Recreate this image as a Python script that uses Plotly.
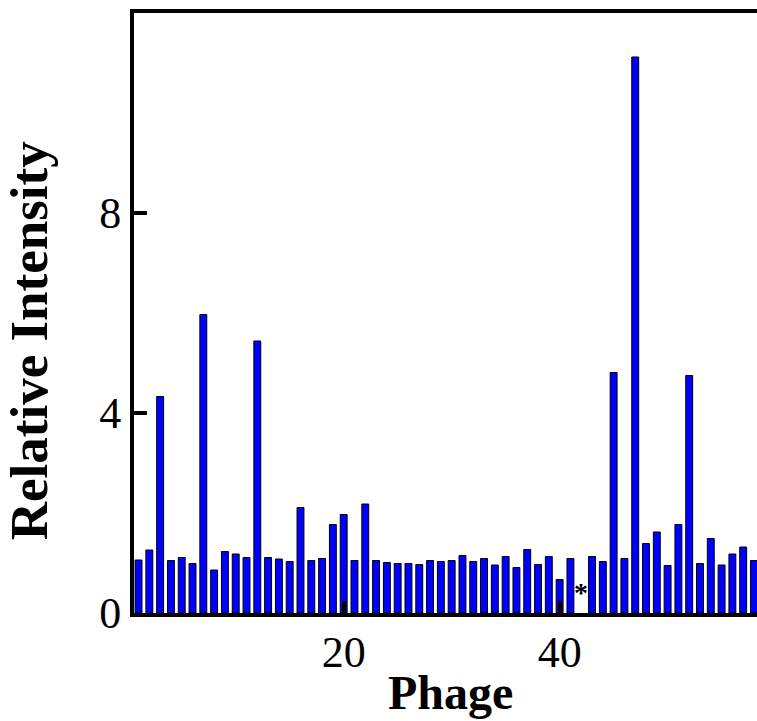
import plotly.graph_objects as go

phage = list(range(1, 59))
intensity = [1.06, 1.26, 4.33, 1.05, 1.11, 0.99, 5.97, 0.86, 1.23, 1.18,
             1.11, 5.44, 1.11, 1.08, 1.03, 2.11, 1.05, 1.09, 1.77, 1.97,
             1.05, 2.18, 1.05, 1.01, 0.99, 0.99, 0.97, 1.05, 1.03, 1.05,
             1.15, 1.03, 1.09, 0.96, 1.13, 0.91, 1.27, 0.97, 1.13, 0.67,
             1.09, None, 1.13, 1.03, 4.81, 1.09, 11.12, 1.39, 1.62, 0.95,
             1.77, 4.75, 0.99, 1.49, 0.96, 1.18, 1.32, 1.05]
x_ticks = [20, 40]
y_ticks = [0, 4, 8]
marked_phage = 42

fig = go.Figure()
fig.add_trace(go.Bar(
    x=phage, y=intensity, width=0.64,
    marker=dict(color="#0000FF", line=dict(color="black", width=1)),
))

serif = "Liberation Serif, Times New Roman, serif"
fig.update_layout(
    width=757, height=721,
    margin=dict(l=134, r=0, t=13, b=108),
    paper_bgcolor="white", plot_bgcolor="white",
    showlegend=False,
    font=dict(family=serif, color="black"),
    xaxis=dict(range=[0.58, 58.28], tickvals=x_ticks, ticks="inside",
               ticklen=12, tickwidth=4, tickcolor="black",
               showline=True, linewidth=4, linecolor="black", mirror=True,
               showgrid=False, zeroline=False,
               tickfont=dict(family=serif, size=44), ticklabelstandoff=-3),
    yaxis=dict(range=[0, 12], tickvals=y_ticks, ticks="inside",
               ticklen=13, tickwidth=4, tickcolor="black",
               showline=True, linewidth=4, linecolor="black",
               showgrid=False, zeroline=False,
               tickfont=dict(family=serif, size=44), ticklabelstandoff=0),
    annotations=[
        dict(text="<b>Phage</b>", xref="paper", yref="paper", x=0.508, y=-0.085,
             xanchor="center", yanchor="top", showarrow=False,
             font=dict(family=serif, size=48)),
        dict(text="<b>Relative Intensity</b>", xref="paper", yref="paper",
             x=-0.1685, y=0.453, xanchor="center", yanchor="middle",
             textangle=-90, showarrow=False,
             font=dict(family=serif, size=53)),
        dict(text="<b>*</b>", xref="x", yref="y", x=marked_phage, y=0.42,
             showarrow=False, font=dict(family=serif, size=28)),
    ],
)
fig.write_html("out.html")
